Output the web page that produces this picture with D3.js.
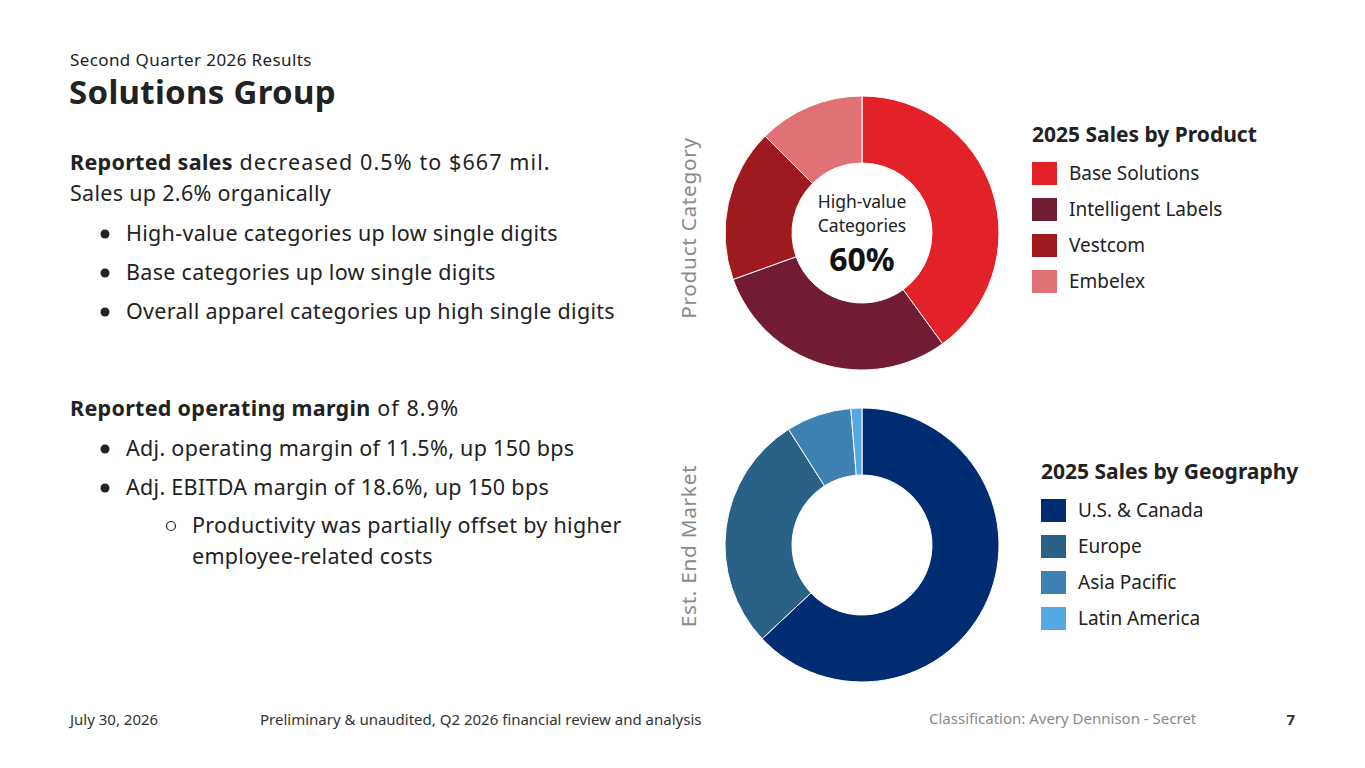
<!DOCTYPE html>
<html>
<head>
<meta charset="utf-8">
<script src="https://cdn.jsdelivr.net/npm/d3@7"></script>
<style>
  body { margin: 0; background: #fff; }
  svg { display: block; font-family: "Noto Sans", "Open Sans", sans-serif; }
</style>
</head>
<body>
<div id="chart"></div>
<script>
// chart data
var productLabels = ["Base Solutions", "Intelligent Labels", "Vestcom", "Embelex"];
var productShares = [40, 29.5, 18, 12.5];
var productColors = ["#e32128", "#721c33", "#9e1a1e", "#e07174"];

var geoLabels = ["U.S. & Canada", "Europe", "Asia Pacific", "Latin America"];
var geoShares = [63, 28, 7.7, 1.3];
var geoColors = ["#002d72", "#2a6186", "#3d82b3", "#54a9e3"];

var width = 1365, height = 768;

var svg = d3.select("#chart")
  .append("svg")
  .attr("width", width)
  .attr("height", height);

// left text block
var ink = "#222";
svg.append("text").attr("x", 70).attr("y", 66)
  .attr("font-size", 17).attr("letter-spacing", 0.4).attr("fill", ink).text("Second Quarter 2026 Results");
svg.append("text").attr("x", 69).attr("y", 104)
  .attr("font-size", 33).attr("letter-spacing", 0.3).attr("font-weight", 700).attr("fill", ink).text("Solutions Group");

var lines = [
  { y: 170, x: 70, parts: [["Reported sales", 700], [" decreased 0.5% to $667 mil.", 400]] },
  { y: 201, x: 70, parts: [["Sales up 2.6% organically", 400]] },
  { y: 241, x: 126, bullet: "dot", parts: [["High-value categories up low single digits", 400]] },
  { y: 280, x: 126, bullet: "dot", parts: [["Base categories up low single digits", 400]] },
  { y: 319, x: 126, bullet: "dot", parts: [["Overall apparel categories up high single digits", 400]] },
  { y: 416, x: 70, parts: [["Reported operating margin", 700], [" of 8.9%", 400]] },
  { y: 456, x: 126, bullet: "dot", parts: [["Adj. operating margin of 11.5%, up 150 bps", 400]] },
  { y: 495, x: 126, bullet: "dot", parts: [["Adj. EBITDA margin of 18.6%, up 150 bps", 400]] },
  { y: 533, x: 192, bullet: "ring", parts: [["Productivity was partially offset by higher", 400]] },
  { y: 564, x: 192, parts: [["employee-related costs", 400]] }
];

lines.forEach(function(l) {
  var t = svg.append("text").attr("x", l.x).attr("y", l.y)
    .attr("font-size", 21.5).attr("letter-spacing", 0.3).attr("fill", ink);
  l.parts.forEach(function(p) {
    var s = t.append("tspan").attr("font-weight", p[1]).text(p[0]);
    // the regular half of the lead lines runs a little wider
    if (p[1] == 400 && l.parts.length > 1) s.attr("letter-spacing", 1.1);
  });
  if (l.bullet == "dot") {
    svg.append("circle").attr("cx", 105).attr("cy", l.y - 7).attr("r", 4.5).attr("fill", ink);
  } else if (l.bullet == "ring") {
    svg.append("circle").attr("cx", 171).attr("cy", l.y - 7).attr("r", 4.5)
      .attr("fill", "none").attr("stroke", ink).attr("stroke-width", 1.2);
  }
});

// donuts
var pie = d3.pie().sort(null).value(function(d) { return d; });
var arc = d3.arc().innerRadius(70).outerRadius(137);

function donut(cx, cy, values, colors) {
  var g = svg.append("g").attr("transform", "translate(" + cx + "," + cy + ")");
  g.selectAll("path")
    .data(pie(values))
    .join("path")
    .attr("d", arc)
    .attr("fill", function(d, i) { return colors[i]; })
    .attr("stroke", "#fff")
    .attr("stroke-width", 1);
  return g;
}

var productDonut = donut(862, 233, productShares, productColors);
// centre label
productDonut.append("text").attr("text-anchor", "middle").attr("y", -25)
  .attr("font-size", 17.5).attr("fill", ink).text("High-value");
productDonut.append("text").attr("text-anchor", "middle").attr("y", -1)
  .attr("font-size", 17.5).attr("fill", ink).text("Categories");
productDonut.append("text").attr("text-anchor", "middle").attr("y", 38)
  .attr("font-size", 32).attr("font-weight", 700).attr("fill", "#111").text("60%");

donut(862, 545, geoShares, geoColors);

// rotated side labels
function sideLabel(y, txt) {
  svg.append("text")
    .attr("transform", "translate(696," + y + ") rotate(-90)")
    .attr("text-anchor", "middle")
    .attr("font-size", 20.8).attr("letter-spacing", 0.7).attr("fill", "#8a8a8a")
    .text(txt);
}
sideLabel(228, "Product Category");
sideLabel(546, "Est. End Market");

// legends
function legend(x, y, title, labels, colors) {
  svg.append("text").attr("x", x).attr("y", y)
    .attr("font-size", 21).attr("font-weight", 700).attr("fill", ink).text(title);
  var items = svg.selectAll(null)
    .data(labels)
    .join("g")
    .attr("transform", function(d, i) { return "translate(" + x + "," + (y + 20 + i * 36) + ")"; });
  items.append("rect").attr("width", 25).attr("height", 23)
    .attr("fill", function(d, i) { return colors[i]; });
  items.append("text").attr("x", 37).attr("y", 18)
    .attr("font-size", 19).attr("fill", ink).text(function(d) { return d; });
}
legend(1032, 142, "2025 Sales by Product", productLabels, productColors);
legend(1041, 479, "2025 Sales by Geography", geoLabels, geoColors);

// footer
svg.append("text").attr("x", 70).attr("y", 725).attr("font-size", 15).attr("fill", "#333").text("July 30, 2026");
svg.append("text").attr("x", 260).attr("y", 725).attr("font-size", 15).attr("fill", "#333")
  .text("Preliminary & unaudited, Q2 2026 financial review and analysis");
svg.append("text").attr("x", 929).attr("y", 724).attr("font-size", 15).attr("fill", "#8a8a8a")
  .text("Classification: Avery Dennison - Secret");
svg.append("text").attr("x", 1295).attr("y", 725).attr("text-anchor", "end")
  .attr("font-size", 15).attr("font-weight", 700).attr("fill", "#333").text("7");
</script>
</body>
</html>
